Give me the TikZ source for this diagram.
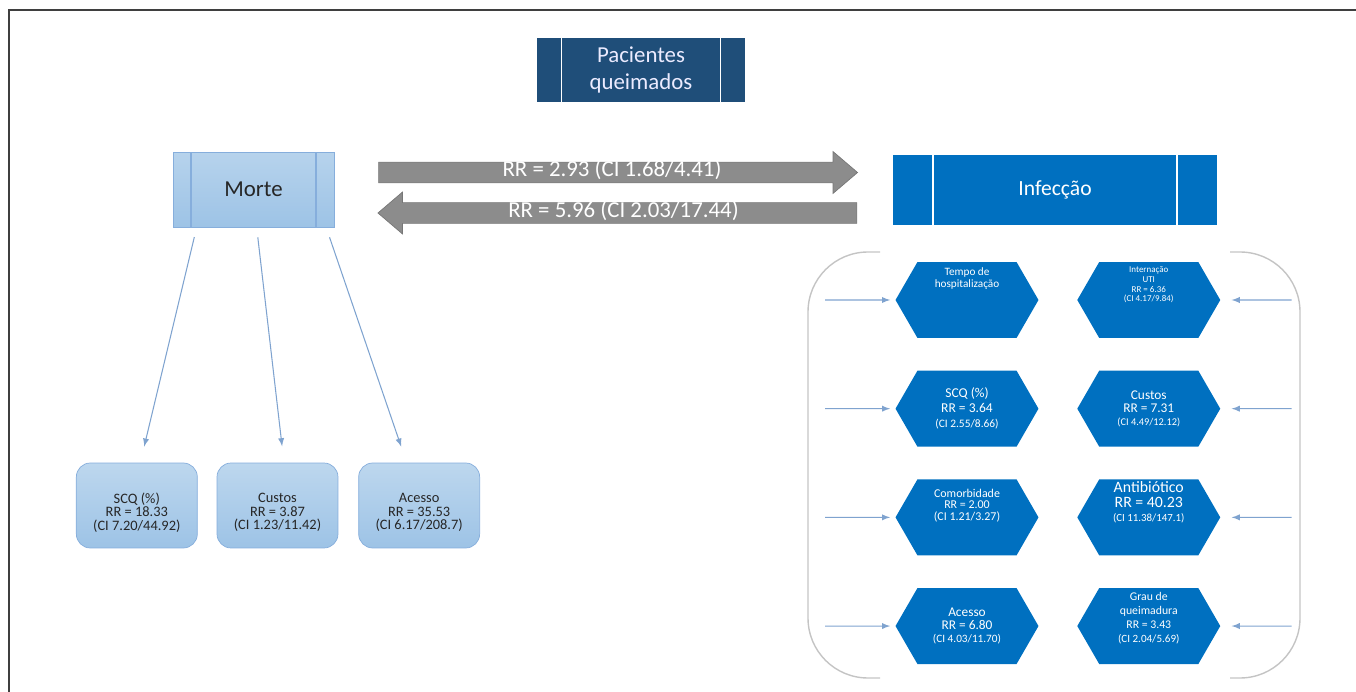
\documentclass[tikz,border=0pt]{standalone}
\usepackage{fontspec}
\setmainfont{Carlito}
\usetikzlibrary{shapes, arrows, positioning}

\definecolor{navy}{HTML}{1F4E79}
\definecolor{vivid}{HTML}{0070C0}
\definecolor{pale}{HTML}{9DC3E6}
\definecolor{paletop}{HTML}{BDD7EE}
\definecolor{paleedge}{HTML}{86AEDC}
\definecolor{arrowgray}{HTML}{8C8C8C}
\definecolor{linkblue}{HTML}{7FA3CF}
\definecolor{bracketgray}{HTML}{C4C4C4}
\definecolor{framegray}{HTML}{3F3F3F}

\begin{document}
\begin{tikzpicture}[
        x = 0.02cm, y = -0.02cm,
        node distance = 0.64cm and 0.76cm,
        every node/.style = {align=center, inner sep=0pt},
        sidebars/.style 2 args = {path picture={
            \draw[#2, line width=1pt]
                ([xshift=#1]path picture bounding box.north west) -- ([xshift=#1]path picture bounding box.south west)
                ([xshift=-#1]path picture bounding box.north east) -- ([xshift=-#1]path picture bounding box.south east);}},
        headbox/.style = {rectangle, minimum width=#1},
        bigarrow/.style = {single arrow, fill=arrowgray, draw=arrowgray!85!black,
            minimum height=9.58cm, single arrow head extend=0.21cm, single arrow tip angle=81,
            inner xsep=0pt, inner ysep=0.7pt, text height=7.5pt, text depth=2.5pt,
            text=white, font=\fontsize{13}{14}\selectfont},
        outcome/.style = {rectangle, rounded corners=0.28cm, draw=paleedge, top color=paletop, bottom color=pale,
            minimum width=2.42cm, minimum height=1.7cm},
        outcometext/.style = {yshift=-0.14cm, text=black!85, font=\fontsize{8.2}{7.8}\selectfont},
        factor/.style = {signal, signal to=east and west, signal pointer angle=120, fill=vivid,
            minimum width=2.86cm, minimum height=1.52cm, text=white},
        line/.style = {draw=linkblue, line width=0.6pt, -latex},
        bracket/.style = {draw=bracketgray, line width=0.8pt, rounded corners=1.2cm}
    ]
    \useasboundingbox (0,0) rectangle (1356,692);
    \draw[framegray, line width=1.2pt] (9,692) -- (9,10) -- (1356,10);

    % Nodes
    \node (pacientes) [headbox=4.16cm, minimum height=1.28cm, fill=navy, sidebars={0.49cm}{white},
        text=blue!8, font=\fontsize{13}{15}\selectfont] at (641,70) {Pacientes\\queimados};
    \node (morte) [headbox=3.22cm, minimum height=1.5cm, draw=paleedge, top color=paletop!80!pale, bottom color=pale,
        sidebars={0.36cm}{paleedge}, text=black!85, font=\fontsize{13}{14}\selectfont] at (253.5,189.5) {Morte};
    \node (infeccao) [headbox=6.48cm, minimum height=1.4cm, fill=vivid, sidebars={0.8cm}{white},
        text=white, font=\fontsize{12.3}{14}\selectfont] at (1055,190) {Infecção};

    % Risk arrows
    \node (ida) [bigarrow] at (612,172.5) {RR = 2.93 (CI 1.68/4.41)};
    \node (volta) [bigarrow, shape border rotate=180] at (623.5,213) {RR = 5.96 (CI 2.03/17.44)};

    % Outcomes of death
    \node (mcustos) [outcome, label={[outcometext]center:Custos\\RR = 3.87\\(CI 1.23/11.42)}] at (277.5,505.5) {};
    \node (mscq) [outcome, left=0.38cm of mcustos, label={[outcometext]center:SCQ (\%)\\RR = 18.33\\(CI 7.20/44.92)}] {};
    \node (macesso) [outcome, right=0.4cm of mcustos, label={[outcometext]center:Acesso\\RR = 35.53\\(CI 6.17/208.7)}] {};

    \path [line, shorten <=0.2cm, shorten >=0.33cm] ([xshift=0.48cm]morte.south west) -- ([xshift=0.07cm]mscq.north);
    \path [line, shorten <=0.2cm, shorten >=0.33cm] ([xshift=1.68cm]morte.south west) -- ([xshift=0.13cm]mcustos.north);
    \path [line, shorten <=0.21cm, shorten >=0.34cm] ([xshift=3.07cm]morte.south west) -- ([xshift=-0.25cm]macesso.north);

    % Factors of infection
    \node (tempo) [factor, font=\fontsize{6.4}{5.4}\selectfont] at (967,300) {Tempo de\\hospitalização\\[20pt]~};
    \node (scq) [factor, below=of tempo, font=\fontsize{7.7}{8.5}\selectfont] {SCQ (\%)\\RR = 3.64\\\fontsize{6.5}{8}\selectfont (CI 2.55/8.66)};
    \node (comorb) [factor, below=of scq, font=\fontsize{6.8}{6.6}\selectfont] {Comorbidade\\RR = 2.00\\(CI 1.21/3.27)\\[8pt]~};
    \node (acesso) [factor, below=of comorb, font=\fontsize{7.6}{7.6}\selectfont] {Acesso\\RR = 6.80\\\fontsize{6.4}{7.6}\selectfont (CI 4.03/11.70)};

    \node (uti) [factor, right=of tempo, font=\fontsize{5.1}{5.5}\selectfont] {Internação\\UTI\\RR = 6.36\\(CI 4.17/9.84)\\[12.5pt]~};
    \node (custos) [factor, right=of scq, font=\fontsize{7.6}{7.4}\selectfont] {Custos\\RR = 7.31\\\fontsize{5.9}{8.2}\selectfont (CI 4.49/12.12)};
    \node (antib) [factor, right=of comorb, font=\fontsize{9}{8}\selectfont] {Antibiótico\\RR = 40.23\\\fontsize{6.2}{7.6}\selectfont (CI 11.38/147.1)\\[10pt]~};
    \node (grau) [factor, right=of acesso, font=\fontsize{6.7}{7.8}\selectfont] {Grau de\\queimadura\\RR = 3.43\\\fontsize{6.3}{7.8}\selectfont (CI 2.04/5.69)\\[2pt]~};

    % Brackets
    \draw [bracket] (880,252) -- (808,252) -- (808,678) -- (880,678);
    \draw [bracket] (1230,252) -- (1300,252) -- (1300,678) -- (1230,678);

    % Lines
    \coordinate [left=1.4cm of tempo] (in1);
    \coordinate [left=1.4cm of scq] (in2);
    \coordinate [left=1.4cm of comorb] (in3);
    \coordinate [left=1.4cm of acesso] (in4);
    \coordinate [right=1.42cm of uti] (in5);
    \coordinate [right=1.42cm of custos] (in6);
    \coordinate [right=1.42cm of antib] (in7);
    \coordinate [right=1.42cm of grau] (in8);
    \path [line, shorten >=0.1cm] (in1) -- (tempo);
    \path [line, shorten >=0.1cm] (in2) -- (scq);
    \path [line, shorten >=0.1cm] (in3) -- (comorb);
    \path [line, shorten >=0.1cm] (in4) -- (acesso);
    \path [line, shorten >=0.22cm] (in5) -- (uti);
    \path [line, shorten >=0.22cm] (in6) -- (custos);
    \path [line, shorten >=0.22cm] (in7) -- (antib);
    \path [line, shorten >=0.22cm] (in8) -- (grau);

\end{tikzpicture}
\end{document}
